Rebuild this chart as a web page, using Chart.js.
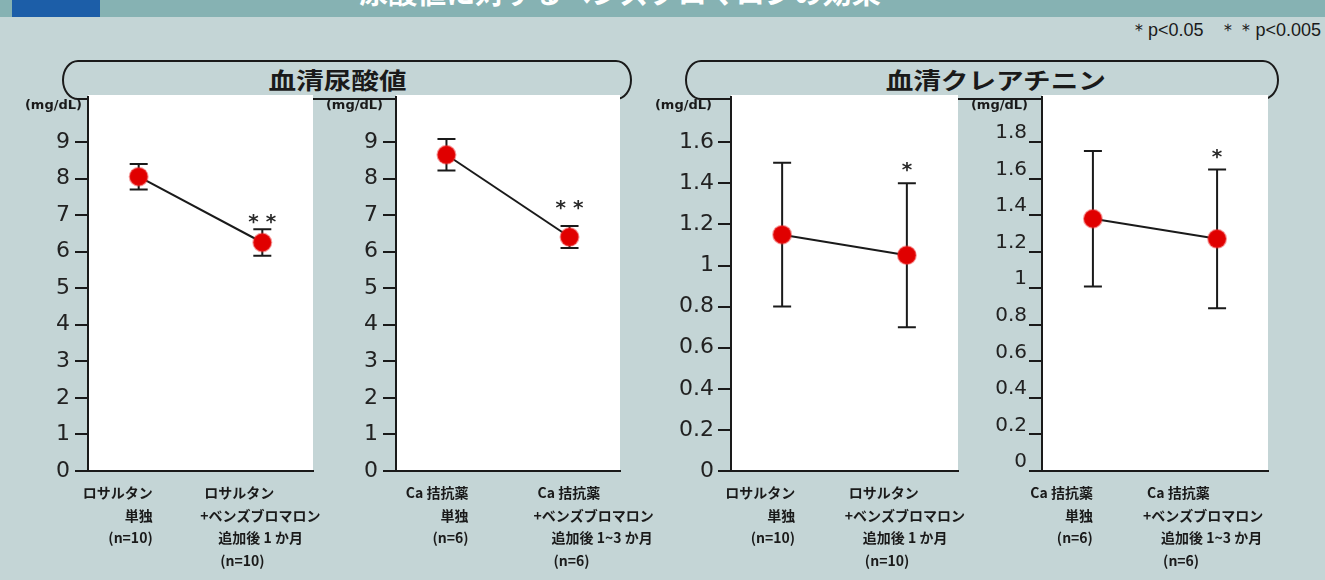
<!DOCTYPE html>
<html lang="ja">
<head>
<meta charset="utf-8">
<script src="https://cdn.jsdelivr.net/npm/chart.js@4.4.1/dist/chart.umd.min.js"></script>
<style>
  html, body { margin: 0; padding: 0; }
  body {
    width: 1325px; height: 580px; position: relative; overflow: hidden;
    background: #c4d5d6; font-family: "Noto Sans CJK JP", sans-serif;
  }
  .topbar { position: absolute; left: 0; top: 0; width: 1325px; height: 17px; background: #86b2b3; overflow: hidden; }
  .topbar .mark { position: absolute; left: 12px; top: 0; width: 88px; height: 17px; background: #1c5ea8; }
  .topbar .title {
    position: absolute; left: 0; top: -26px; width: 1240px; text-align: center;
    color: #fff; font-weight: 700; font-size: 29px; line-height: 34px;
  }
  .pill {
    position: absolute; top: 60px; height: 40px; box-sizing: border-box;
    border: 2px solid #1a1a1a; border-radius: 16px / 20px;
    text-align: center; font-weight: 700; font-size: 23px; line-height: 35px; color: #1a1a1a;
  }
  .pill span { display: inline-block; transform: scaleX(1.2); }
  .note { position: absolute; right: 4px; top: 18px; font-family: "Liberation Sans Narrow", "Liberation Sans", sans-serif; font-size: 18px; color: #1a1a1a; word-spacing: 3px; }
  canvas { position: absolute; top: 67px; }
</style>
</head>
<body>
<div class="topbar"><div class="mark"></div><div class="title">尿酸値に対するベンズブロマロンの効果</div></div>
<div class="note">＊p&lt;0.05 &nbsp;＊＊p&lt;0.005</div>
<div class="pill" style="left:62px;width:570px;padding-right:20px"><span>血清尿酸値</span></div>
<div class="pill" style="left:685px;width:594px;padding-left:28px"><span>血清クレアチニン</span></div>
<canvas id="ua1"></canvas>
<canvas id="ua2"></canvas>
<canvas id="cr1"></canvas>
<canvas id="cr2"></canvas>
<script>
// 群ラベル
const losartanGroups = [
    ['ロサルタン', '単独', '(n=10)'],
    ['ロサルタン', '+ベンズブロマロン', '追加後 1 か月', '(n=10)']
];
const caGroups = [
    ['Ca 拮抗薬', '単独', '(n=6)'],
    ['Ca 拮抗薬', '+ベンズブロマロン', '追加後 1~3 か月', '(n=6)']
];

// 目盛り
const uaTicks = [0, 1, 2, 3, 4, 5, 6, 7, 8, 9];
const crTicksLosartan = [0, 0.2, 0.4, 0.6, 0.8, 1, 1.2, 1.4, 1.6];
const crTicksCa = [0, 0.2, 0.4, 0.6, 0.8, 1, 1.2, 1.4, 1.6, 1.8];

// 平均値と標準偏差 (mg/dL)
const uaLosartanMean = [8.05, 6.25];
const uaLosartanSD = [0.35, 0.36];
const uaCaMean = [8.65, 6.4];
const uaCaSD = [0.43, 0.3];
const crLosartanMean = [1.15, 1.05];
const crLosartanSD = [0.35, 0.35];
const crCaMean = [1.38, 1.27];
const crCaSD = [0.37, 0.38];

// 有意差マーク
const uaSig = ['', '* *'];
const crSig = ['', '*'];

const INK = '#1a1a1a';
const CANVAS_TOP = 67;
const CANVAS_H = 513;

// エラーバー・単位・有意差・群ラベルを描く
const panelDecor = {
    id: 'panelDecor',
    beforeDraw(chart) {
        const a = chart.chartArea;
        const ctx = chart.ctx;
        ctx.save();
        ctx.fillStyle = '#ffffff';
        ctx.fillRect(a.left, a.top - 2, a.right - a.left, a.bottom - a.top + 2);
        ctx.restore();
    },
    beforeDatasetsDraw(chart, args, opts) {
        const ctx = chart.ctx;
        const xs = chart.scales.x, ys = chart.scales.y;
        const means = chart.data.datasets[0].data;
        ctx.save();
        ctx.strokeStyle = INK;
        ctx.lineWidth = 2;
        means.forEach((p, i) => {
            const x = xs.getPixelForValue(p.x);
            const yTop = ys.getPixelForValue(p.y + opts.sd[i]);
            const yBot = ys.getPixelForValue(p.y - opts.sd[i]);
            ctx.beginPath();
            ctx.moveTo(x, yTop); ctx.lineTo(x, yBot);
            ctx.moveTo(x - 9, yTop); ctx.lineTo(x + 9, yTop);
            ctx.moveTo(x - 9, yBot); ctx.lineTo(x + 9, yBot);
            ctx.stroke();
        });
        ctx.restore();
    },
    afterDraw(chart, args, opts) {
        const ctx = chart.ctx;
        const a = chart.chartArea;
        const xs = chart.scales.x, ys = chart.scales.y;
        const means = chart.data.datasets[0].data;
        ctx.save();
        ctx.fillStyle = INK;

        // 単位
        ctx.font = 'bold 13px "DejaVu Sans"';
        ctx.textAlign = 'right';
        ctx.textBaseline = 'middle';
        ctx.fillText('(mg/dL)', a.left - opts.unitGap, a.top + 9);

        // 有意差
        ctx.font = 'bold 20px "DejaVu Sans"';
        ctx.textAlign = 'center';
        ctx.fillStyle = '#2a2a2a';
        means.forEach((p, i) => {
            if (!opts.sig[i]) return;
            const x = xs.getPixelForValue(p.x);
            const y = ys.getPixelForValue(p.y + opts.sd[i]) - opts.sigGap + 5;
            ctx.fillText(opts.sig[i], x, y);
        });

        // 群ラベル
        ctx.fillStyle = INK;
        ctx.font = 'bold 14px "Noto Sans CJK JP"';
        const rowY = i => a.bottom + 22 + i * 22.5;
        const x0 = xs.getPixelForValue(0), x1 = xs.getPixelForValue(1);
        ctx.textAlign = 'right';
        opts.groups[0].forEach((t, i) => ctx.fillText(t, x0 + opts.aRight, rowY(i)));
        ctx.textAlign = 'left';
        opts.groups[1].forEach((t, i) => ctx.fillText(t, x1 + opts.bLeft + opts.indent[i], rowY(i)));
        ctx.restore();
    }
};

function drawPanel(id, box, groups, means, sd, sig, ticks, yMax, extra) {
    const canvas = document.getElementById(id);
    canvas.width = box.width;
    canvas.height = CANVAS_H;
    canvas.style.left = box.left + 'px';

    return new Chart(canvas, {
        type: 'line',
        data: {
            datasets: [{
                data: means.map((v, i) => ({ x: i, y: v })),
                borderColor: INK,
                borderWidth: 2,
                tension: 0,
                pointRadius: 9,
                pointBackgroundColor: '#e00000',
                pointBorderColor: 'rgba(235, 40, 40, 0.45)',
                pointBorderWidth: 2
            }]
        },
        plugins: [panelDecor],
        options: {
            responsive: false,
            animation: false,
            events: [],
            layout: { padding: { top: 30, left: 0, bottom: 0, right: box.left + box.width - box.right } },
            plugins: {
                legend: { display: false },
                tooltip: { enabled: false },
                panelDecor: Object.assign({ groups, sd, sig, indent: [4, 0, 18, 20] }, extra)
            },
            scales: {
                x: {
                    type: 'linear', min: -0.41, max: 1.41,
                    grid: { display: false },
                    border: { color: INK, width: 2 },
                    ticks: { display: false },
                    afterFit(s) { s.height = CANVAS_H - (471 - CANVAS_TOP); }
                },
                y: {
                    min: 0, max: yMax,
                    afterBuildTicks(s) { s.ticks = ticks.map(v => ({ value: v })); },
                    grid: { drawOnChartArea: false, color: INK, tickColor: INK, lineWidth: 2, tickLength: 13 },
                    border: { color: INK, width: 2 },
                    ticks: {
                        color: '#222',
                        font: { family: 'DejaVu Sans', size: extra.tickSize },
                        padding: extra.tickPad,
                        labelOffset: extra.labelOffset,
                        callback: v => String(v)
                    },
                    afterFit(s) { s.width = box.axisX - box.left; }
                }
            }
        }
    });
}

drawPanel('ua1', { left: 0, width: 340, axisX: 88, right: 313 }, losartanGroups,
    uaLosartanMean, uaLosartanSD, uaSig, uaTicks, 10.23,
    { aRight: 14, bLeft: -62, sigGap: 12, tickPad: 5, tickSize: 22, labelOffset: 0, unitGap: 6 });
drawPanel('ua2', { left: 318, width: 360, axisX: 396, right: 620 }, caGroups,
    uaCaMean, uaCaSD, uaSig, uaTicks, 10.23,
    { aRight: 22, bLeft: -36, sigGap: 22, tickPad: 5, tickSize: 22, labelOffset: 0, unitGap: 13 });
drawPanel('cr1', { left: 640, width: 400, axisX: 731, right: 958 }, losartanGroups,
    crLosartanMean, crLosartanSD, crSig, crTicksLosartan, 1.82,
    { aRight: 13, bLeft: -62, sigGap: 18, tickPad: 4, tickSize: 22, labelOffset: 0, unitGap: 19 });
drawPanel('cr2', { left: 960, width: 365, axisX: 1042, right: 1268 }, caGroups,
    crCaMean, crCaSD, crSig, crTicksCa, 2.046,
    { aRight: 0, bLeft: -74, sigGap: 17, tickPad: 2, tickSize: 20, labelOffset: -9, unitGap: 14 });
</script>
</body>
</html>
